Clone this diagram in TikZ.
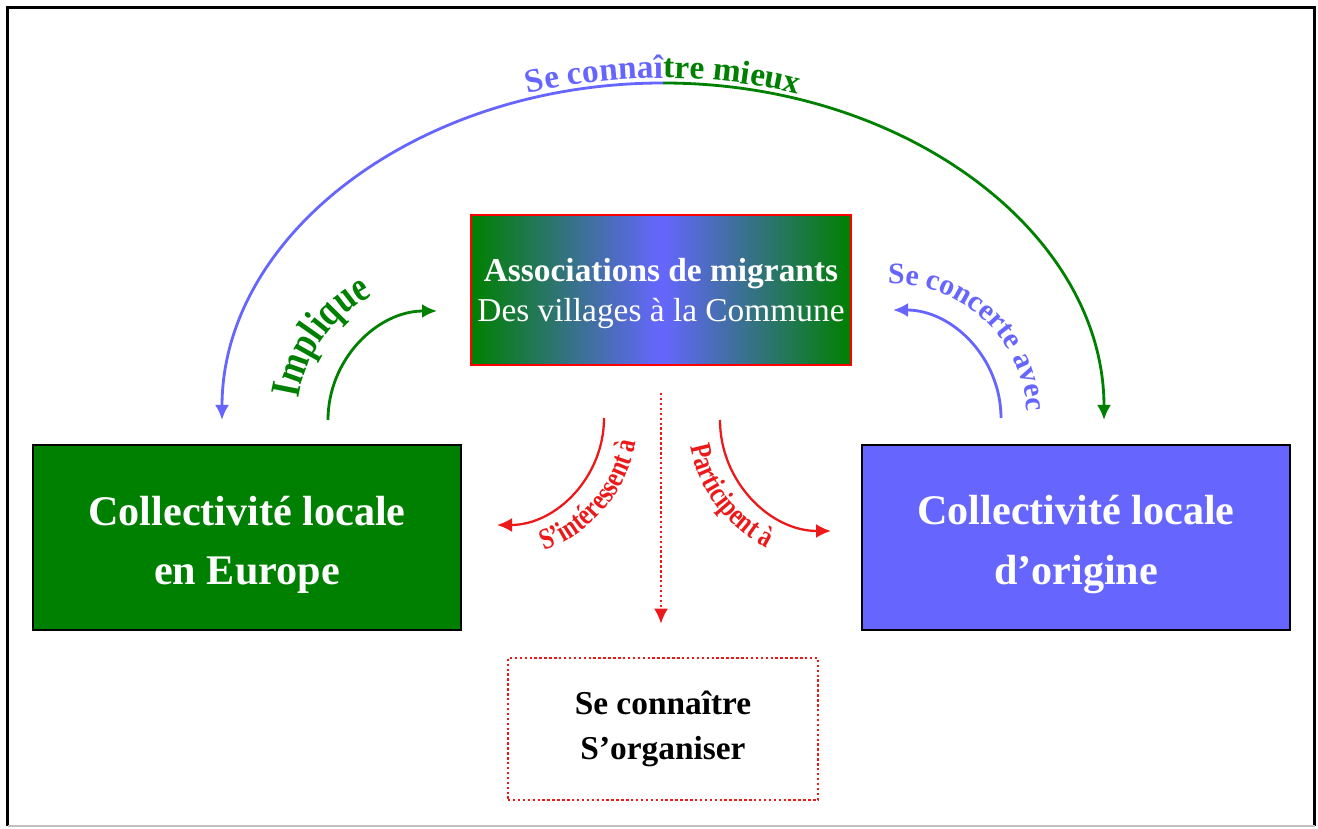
\documentclass[tikz,border=0pt]{standalone}
\usepackage{fontspec}
\setmainfont{Liberation Serif}
\newfontfamily\artfont[FakeStretch=0.8]{Liberation Serif}
\usetikzlibrary{arrows.meta,positioning,decorations.text}

\definecolor{leafgreen}{RGB}{0,128,0}
\definecolor{periwinkle}{RGB}{102,102,255}
\definecolor{signalred}{RGB}{235,25,25}

\begin{document}
\begin{tikzpicture}[
    x=0.02cm, y=0.02cm,
    collbox/.style={draw=black, line width=1pt, minimum width=8.56cm, minimum height=3.7cm, align=center, text=white, font=\fontsize{24}{34}\selectfont\bfseries},
    assocbox/.style={draw=red, line width=1.2pt, minimum width=7.6cm, minimum height=3cm, align=center, text=white, left color=leafgreen, right color=leafgreen, middle color=periwinkle, font=\fontsize{19}{23}\selectfont},
    notebox/.style={draw=signalred, line width=1.5pt, dash pattern=on 1.4pt off 1.4pt, minimum width=6.2cm, minimum height=2.84cm, align=center, font=\fontsize{19}{25.6}\selectfont\bfseries},
    arrow/.style={-{Latex[length=3mm, width=2.8mm]}, line width=1.6pt},
    redarrow/.style={arrow, signalred, line width=1.3pt},
    curvetext/.style={decorate, decoration={text along path, text align=center, text={#1}}}
]
\useasboundingbox (0,0) rectangle (1318,828);

% Frame
\draw[line width=1.8pt] (7.5,2) -- (7.5,820.5) -- (1314.5,820.5) -- (1314.5,2);
\draw[gray!50, line width=0.8pt] (7.5,2) -- (1314.5,2);

% Boxes
\node[collbox, fill=leafgreen] (europe) at (247,290.5) {\rule{0pt}{25pt}Collectivité locale\\en Europe};
\node[collbox, fill=periwinkle] (origine) at (1076,290.5) {\rule{0pt}{25pt}Collectivité locale\\d’origine};
\node[assocbox] (assoc) at (661,538) {\rule{0pt}{17pt}{\bfseries Associations de migrants}\\Des villages à la Commune};
\node[notebox] (organiser) at (663,99) {Se connaître\\S’organiser};

% Start points of the arcs
\coordinate (arctop) at (663,745);
\coordinate (implique-start) at (328,408);
\coordinate (concerte-start) at (1001,410);
\coordinate (interesse-start) at (604,410);
\coordinate (participe-start) at (720,408);

% Big arc
\draw[arrow, periwinkle] (arctop) arc[start angle=90, end angle=180, x radius=441, y radius=337];
\draw[arrow, leafgreen] (arctop) arc[start angle=90, end angle=0, x radius=441, y radius=337];
\path[curvetext={|\fontsize{19}{19}\selectfont\bfseries\color{periwinkle}|Se connaî|\fontsize{19}{19}\selectfont\bfseries\color{leafgreen}|tre mieux}]
    (217,408) arc[start angle=180, end angle=0, x radius=446, y radius=342];

% Implique
\draw[arrow, leafgreen] (implique-start) arc[start angle=180, end angle=90, radius=109];
\path[shift={(437,408)}, curvetext={|\artfont\fontsize{24}{24}\selectfont\bfseries\color{leafgreen}|Implique}]
    (182:140) arc[start angle=182, end angle=107, radius=140];

% Se concerte avec
\draw[arrow, periwinkle] (concerte-start) arc[start angle=0, end angle=90, radius=108];
\path[shift={(893,410)}, curvetext={|\fontsize{17}{17}\selectfont\bfseries\color{periwinkle}|Se concerte avec}]
    (95:134) arc[start angle=95, end angle=0, radius=134];

% Red arrows
\draw[redarrow] (interesse-start) arc[start angle=0, end angle=-90, radius=107];
\path[shift={(497,410)}, curvetext={|\artfont\fontsize{17}{17}\selectfont\bfseries\color{signalred}|S’intéressent à}]
    (-76:141) arc[start angle=-76, end angle=-4, radius=141];
\draw[redarrow] (participe-start) arc[start angle=180, end angle=270, radius=111];
\path[shift={(831,408)}, curvetext={|\artfont\fontsize{17}{17}\selectfont\bfseries\color{signalred}|Participent à}]
    (182:143) arc[start angle=182, end angle=252, radius=143];

% Dotted arrow
\draw[redarrow, line width=1.3pt, dash pattern=on 1.4pt off 1.4pt, shorten <=0.54cm, shorten >=0.66cm]
    (assoc.south) -- (assoc.south |- organiser.north);

\end{tikzpicture}
\end{document}
